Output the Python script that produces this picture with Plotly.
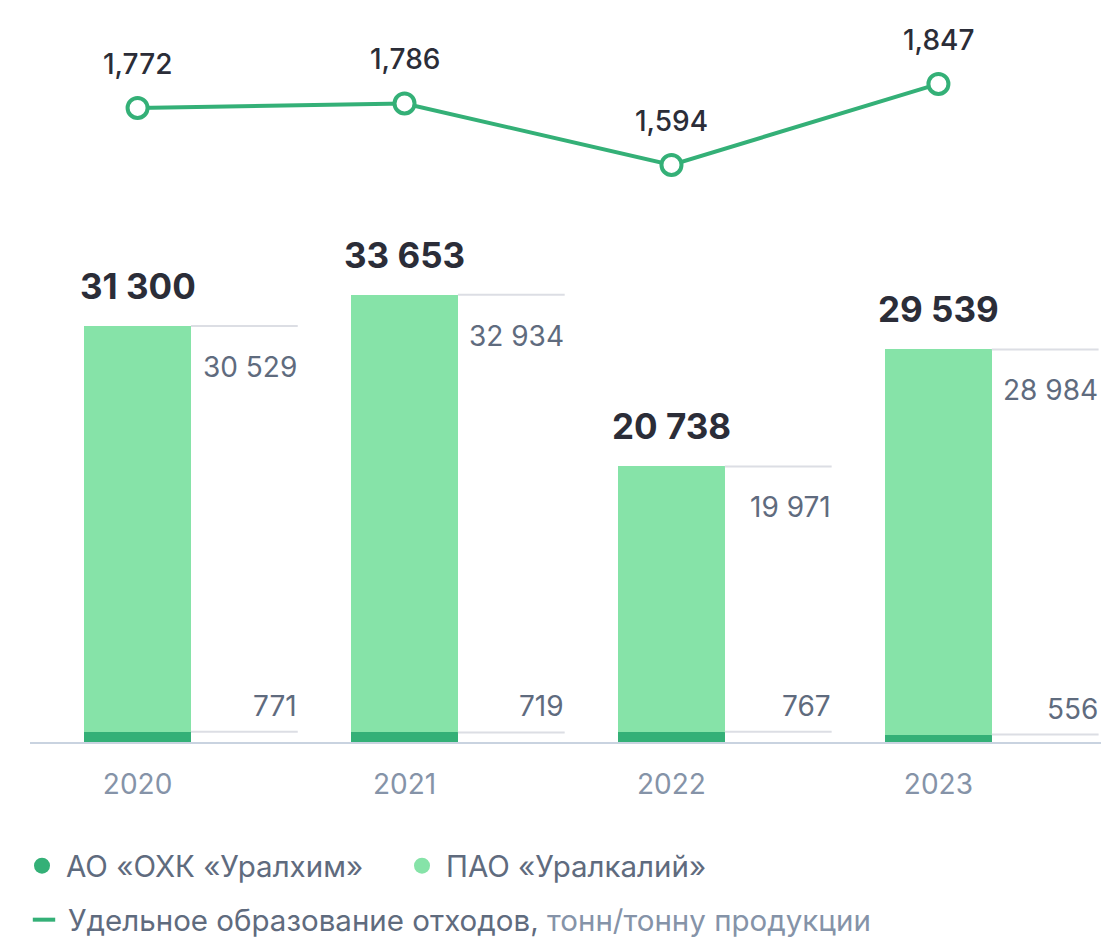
import plotly.graph_objects as go

years = ["2020", "2021", "2022", "2023"]
uralkali = [30529, 32934, 19971, 28984]
uralchem = [771, 719, 767, 556]
totals = [31300, 33653, 20738, 29539]
intensity = [1.772, 1.786, 1.594, 1.847]

DARK = "#34b077"
LIGHT = "#86e3a8"
GRID = "#dcdee4"
TXT = "#2b2d38"
SUB = "#5f6b7e"
AXIS = "#8593a8"


def fmt(v):
    return f"{v:,}".replace(",", " ")


idx = list(range(len(years)))

fig = go.Figure()

fig.add_trace(go.Bar(x=idx, y=uralchem, width=0.4, marker_color=DARK,
                     marker_line_width=0, showlegend=False, hoverinfo="skip"))
fig.add_trace(go.Bar(x=idx, y=uralkali, width=0.4, marker_color=LIGHT,
                     marker_line_width=0, showlegend=False, hoverinfo="skip"))

# grey leader lines to the right of every bar
top_x, top_y, bot_x, bot_y = [], [], [], []
for i in idx:
    top_x += [i + 0.2, i + 0.6, None]
    top_y += [totals[i], totals[i], None]
    bot_x += [i + 0.2, i + 0.6, None]
    bot_y += [uralchem[i], uralchem[i], None]
for xs, ys in ((top_x, top_y), (bot_x, bot_y)):
    fig.add_trace(go.Scatter(x=xs, y=ys, mode="lines", line=dict(color=GRID, width=2),
                             showlegend=False, hoverinfo="skip"))

fig.add_trace(go.Scatter(
    x=idx, y=intensity, yaxis="y2", mode="lines+markers",
    line=dict(color=DARK, width=4),
    marker=dict(size=20, color="white", line=dict(color=DARK, width=4)),
    showlegend=False, hoverinfo="skip",
))

# legend entries, one legend box each so they sit where the reference has them
fig.add_trace(go.Scatter(x=[None], y=[None], mode="markers", name="АО «ОХК «Уралхим»",
                         marker=dict(symbol="circle", size=16, color=DARK), legend="legend"))
fig.add_trace(go.Scatter(x=[None], y=[None], mode="markers", name="ПАО «Уралкалий»",
                         marker=dict(symbol="circle", size=16, color=LIGHT), legend="legend3"))
fig.add_trace(go.Scatter(
    x=[None], y=[None], mode="markers",
    name=f"Удельное образование отходов, <span style='color:{AXIS}'>тонн/тонну продукции</span>",
    marker=dict(symbol="line-ew", size=16, line=dict(color=DARK, width=4)), legend="legend2"))

ann = []
for i in idx:
    ann.append(dict(x=i, y=totals[i], text=f"<b>{fmt(totals[i])}</b>", showarrow=False,
                    xanchor="center", yanchor="bottom", yshift=17,
                    font=dict(size=35, color=TXT, family="Inter")))
    ann.append(dict(x=i + 0.6, y=totals[i], text=fmt(uralkali[i]), showarrow=False,
                    xanchor="right", yanchor="top", yshift=-22, xshift=1,
                    font=dict(size=28, color=SUB, family="Inter")))
    ann.append(dict(x=i + 0.6, y=uralchem[i], text=fmt(uralchem[i]), showarrow=False,
                    xanchor="right", yanchor="bottom", yshift=7, xshift=1,
                    font=dict(size=28, color=SUB, family="Inter")))
    ann.append(dict(x=i, y=intensity[i], yref="y2", text=f"{intensity[i]:.3f}".replace(".", ","),
                    showarrow=False, xanchor="center", yanchor="bottom", yshift=25,
                    font=dict(size=28, color=TXT, family="Inter", weight=500)))

leg_font = dict(size=29.5, color=SUB, family="Inter")
fig.update_layout(
    width=1101, height=938,
    margin=dict(l=30, r=0, t=0, b=196),
    plot_bgcolor="white", paper_bgcolor="white",
    barmode="stack", bargap=0,
    font=dict(family="Inter", color=SUB),
    xaxis=dict(range=[-0.403, 3.609], tickvals=idx, ticktext=years,
               showgrid=False, zeroline=False, showline=True, linecolor="#c9d3e0",
               linewidth=2, ticks="", ticklabelstandoff=16,
               tickfont=dict(size=28, color=AXIS, family="Inter")),
    yaxis=dict(range=[0, 55830], visible=False, showgrid=False),
    yaxis2=dict(range=[-0.208, 2.109], overlaying="y", visible=False, showgrid=False),
    annotations=ann,
    legend=dict(orientation="h", x=-12 / 1071, y=1 - 866 / 938, yref="container",
                yanchor="middle", xanchor="left", font=leg_font, itemsizing="trace",
                itemwidth=38),
    legend3=dict(orientation="h", x=368 / 1071, y=1 - 866 / 938, yref="container",
                 yanchor="middle", xanchor="left", font=leg_font, itemsizing="trace",
                 itemwidth=38),
    legend2=dict(orientation="h", x=-10 / 1071, y=1 - 920 / 938, yref="container",
                 yanchor="middle", xanchor="left", font=leg_font, itemwidth=38),
)

fig.write_html("out.html", config={"displayModeBar": False},
               post_script="document.body.style.margin = '0';")
